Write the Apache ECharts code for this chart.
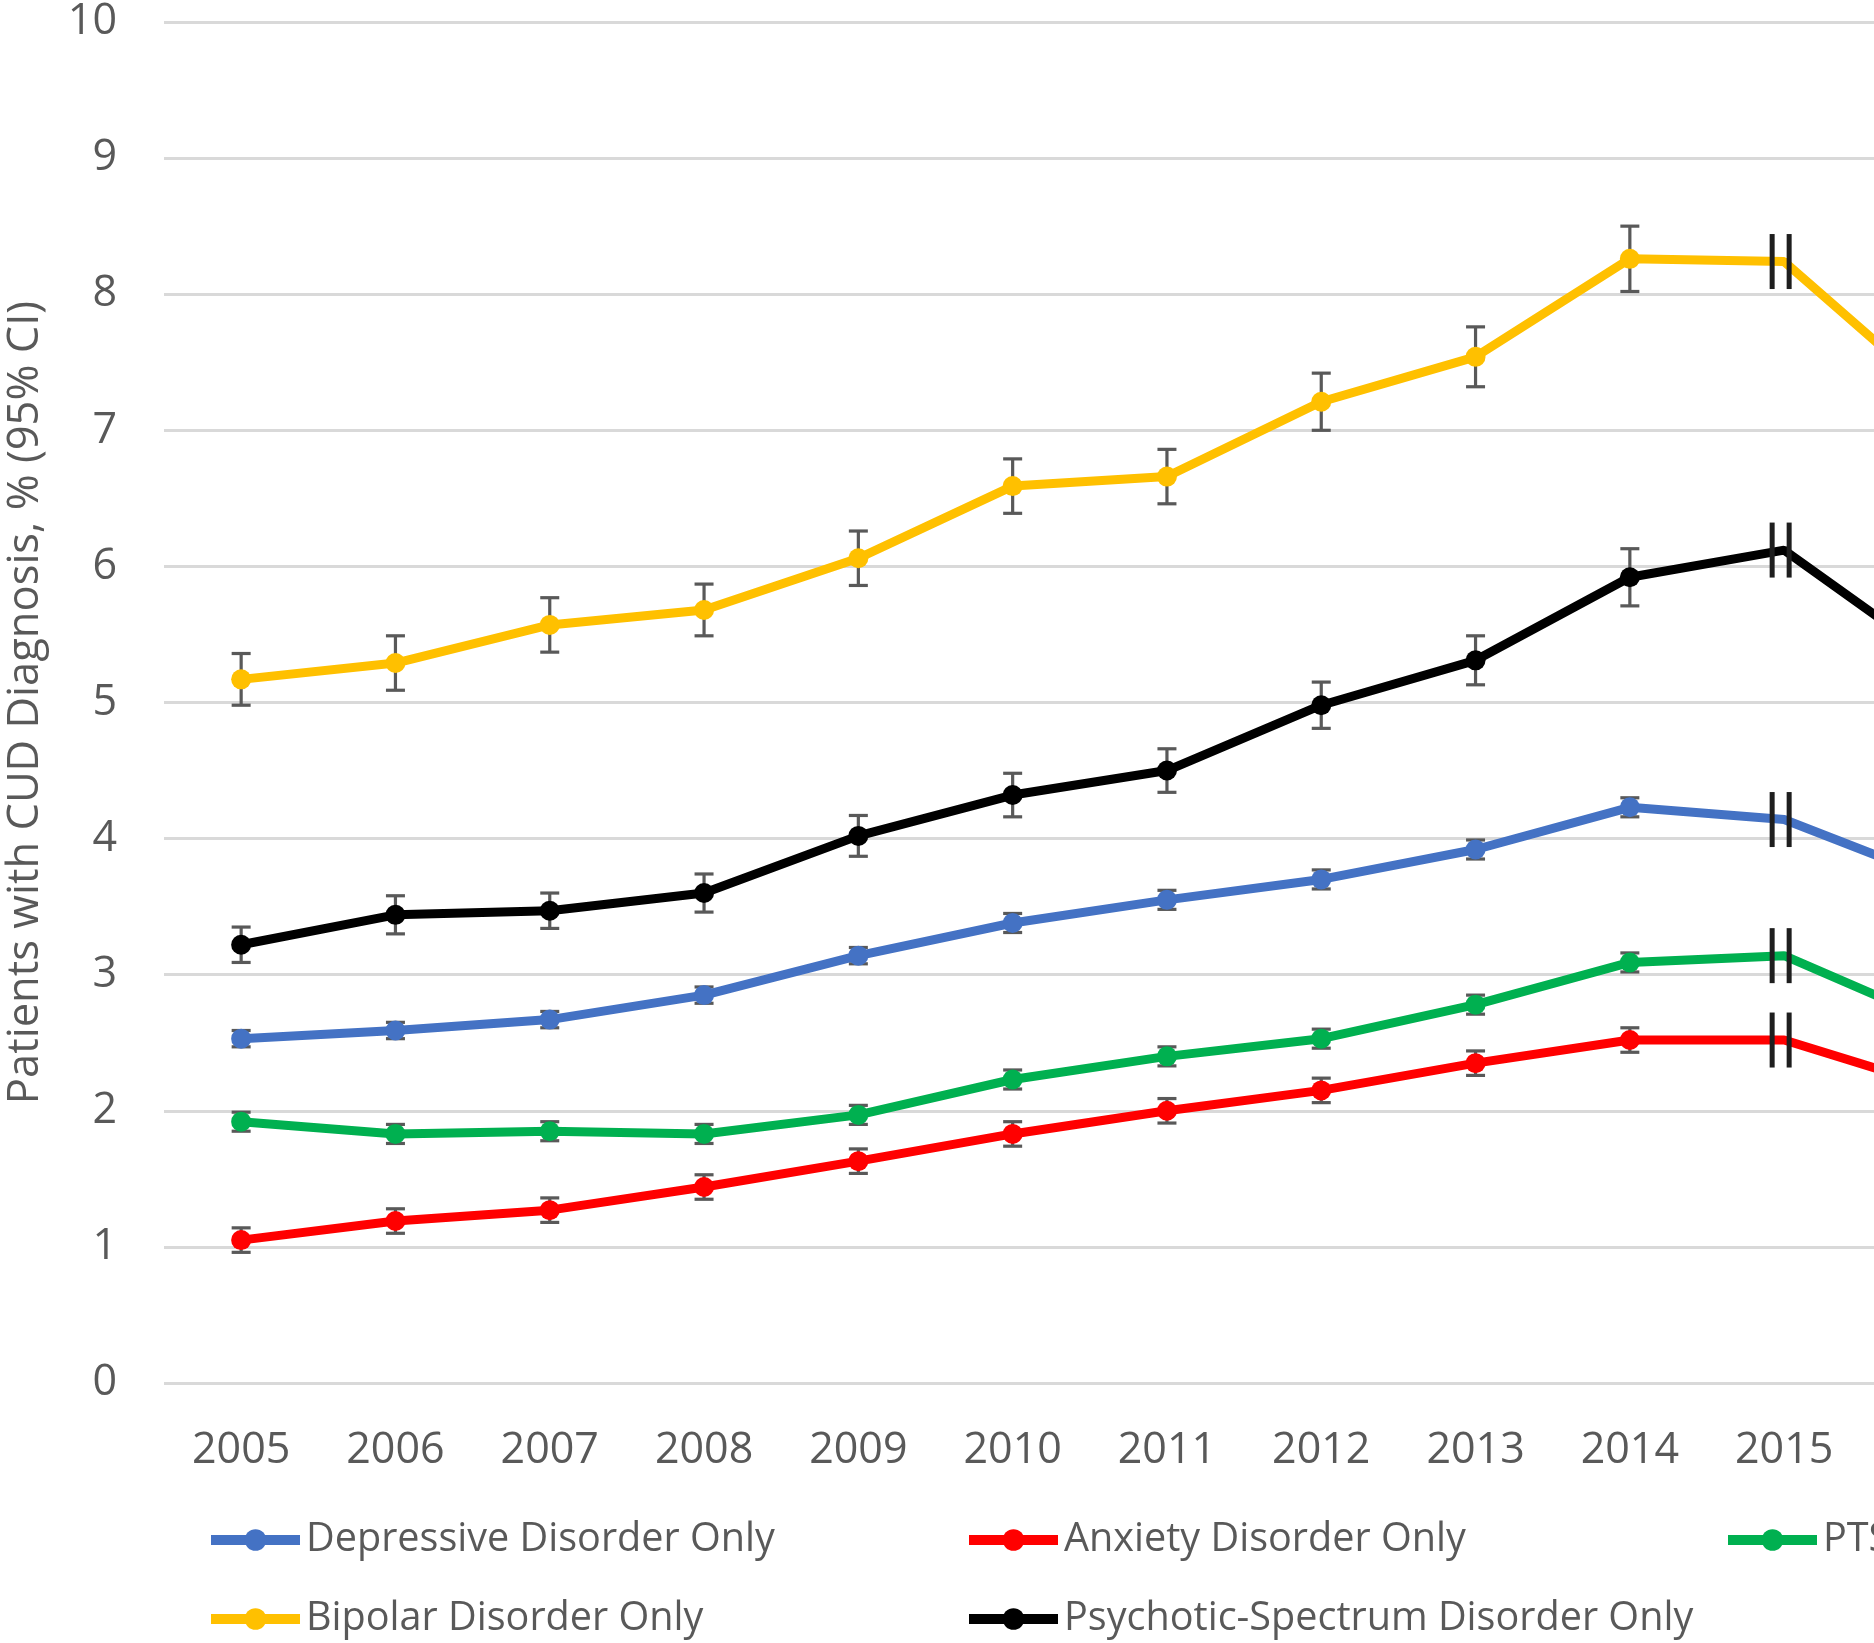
<!DOCTYPE html>
<html>
<head>
<meta charset="utf-8">
<script src="https://cdn.jsdelivr.net/npm/echarts@6/dist/echarts.min.js"></script>
<style>
html,body{margin:0;padding:0;background:#fff;overflow:hidden;width:1874px;height:1643px;}
#chart{width:2040px;height:1643px;}
</style>
</head>
<body>
<div id="chart"></div>
<script>
// ---- data ----
const years = ['2005','2006','2007','2008','2009','2010','2011','2012','2013','2014','2015','2016'];
const yTicks = [0,1,2,3,4,5,6,7,8,9,10];

const depressive = [2.53, 2.59, 2.67, 2.85, 3.14, 3.38, 3.55, 3.70, 3.92, 4.23, 4.14, 3.70];
const anxiety    = [1.05, 1.19, 1.27, 1.44, 1.63, 1.83, 2.00, 2.15, 2.35, 2.52, 2.52, 2.17];
const ptsd       = [1.92, 1.83, 1.85, 1.83, 1.97, 2.23, 2.40, 2.53, 2.78, 3.09, 3.14, 2.65];
const bipolar    = [5.17, 5.29, 5.57, 5.68, 6.06, 6.59, 6.66, 7.21, 7.54, 8.26, 8.24, 7.25];
const psychotic  = [3.22, 3.44, 3.47, 3.60, 4.02, 4.32, 4.50, 4.98, 5.31, 5.92, 6.12, 5.31];

// 95% CI half-widths (2005-2014)
const depressiveErr = [0.06, 0.06, 0.06, 0.06, 0.06, 0.07, 0.07, 0.07, 0.07, 0.07];
const anxietyErr    = [0.09, 0.09, 0.09, 0.09, 0.09, 0.09, 0.09, 0.09, 0.09, 0.09];
const ptsdErr       = [0.07, 0.07, 0.07, 0.07, 0.07, 0.07, 0.07, 0.07, 0.07, 0.07];
const bipolarErr    = [0.19, 0.20, 0.20, 0.19, 0.20, 0.20, 0.20, 0.21, 0.22, 0.24];
const psychoticErr  = [0.13, 0.14, 0.13, 0.14, 0.15, 0.16, 0.16, 0.17, 0.18, 0.21];

const names = ['Depressive Disorder Only','Anxiety Disorder Only','PTSD Only','Bipolar Disorder Only','Psychotic-Spectrum Disorder Only'];
const breakYear = '2015';
// ---------------

const FONT = 'Open Sans';
const TXT = '#595959';
const colors = ['#4472C4','#FF0000','#00B050','#FFC000','#000000'];
const values = [depressive, anxiety, ptsd, bipolar, psychotic];
const errs = [depressiveErr, anxietyErr, ptsdErr, bipolarErr, psychoticErr];
const breakIdx = years.indexOf(breakYear);

const chart = echarts.init(document.getElementById('chart'), null, {renderer:'canvas'});

const series = [];
// error bars (behind lines)
errs.forEach((e, k) => {
  series.push({
    type: 'custom',
    z: 1,
    silent: true,
    encode: {x: 0, y: [1, 2]},
    data: e.map((h, i) => [i, values[k][i] - h, values[k][i] + h]),
    renderItem: function(params, api) {
      const x = api.value(0);
      const p1 = api.coord([x, api.value(1)]);
      const p2 = api.coord([x, api.value(2)]);
      const w = 9.5;
      const st = {stroke: '#595959', lineWidth: 3.2};
      return {type: 'group', children: [
        {type: 'line', shape: {x1: p1[0], y1: p1[1], x2: p2[0], y2: p2[1]}, style: st},
        {type: 'line', shape: {x1: p1[0]-w, y1: p1[1], x2: p1[0]+w, y2: p1[1]}, style: st},
        {type: 'line', shape: {x1: p2[0]-w, y1: p2[1], x2: p2[0]+w, y2: p2[1]}, style: st}
      ]};
    }
  });
});
// lines
values.forEach((v, k) => {
  series.push({
    name: names[k],
    type: 'line',
    z: 2,
    data: v.map((val, i) => i === breakIdx ? {value: val, symbol: 'none'} : val),
    symbol: 'circle',
    symbolSize: 20,
    showAllSymbol: true,
    lineStyle: {color: colors[k], width: 9},
    itemStyle: {color: colors[k]},
    emphasis: {disabled: true}
  });
});
// break marks at ICD transition
series.push({
  type: 'custom',
  z: 3,
  silent: true,
  encode: {x: 0, y: 1},
  data: values.map(v => [breakIdx, v[breakIdx]]),
  renderItem: function(params, api) {
    const p = api.coord([api.value(0), api.value(1)]);
    const h = 27.5;
    const st = {stroke: '#1e1e1e', lineWidth: 5};
    return {type: 'group', children: [
      {type: 'line', shape: {x1: p[0]-12, y1: p[1]-h, x2: p[0]-12, y2: p[1]+h}, style: st},
      {type: 'line', shape: {x1: p[0]+5, y1: p[1]-h, x2: p[0]+5, y2: p[1]+h}, style: st}
    ]};
  }
});

const catW = 154.3;
const legendPos = [
  {left: 206, cy: 1538}, {left: 964, cy: 1538}, {left: 1723, cy: 1538},
  {left: 206, cy: 1617}, {left: 964, cy: 1617}
];
const legends = names.map((n, k) => ({
  data: [n],
  left: legendPos[k].left,
  top: legendPos[k].cy - 18,
  padding: 0,
  itemWidth: 89,
  itemHeight: 27,
  itemGap: 0,
  selectedMode: false,
  lineStyle: {width: 10},
  textStyle: {fontFamily: FONT, fontSize: 39.6, color: TXT, padding: [0,0,0,1]}
}));

chart.setOption({
  animation: false,
  backgroundColor: '#fff',
  grid: {left: 164, top: 22, bottom: 1643 - 1383, width: catW * years.length, containLabel: false, outerBoundsMode: 'none'},
  legend: legends,
  xAxis: {
    type: 'category',
    data: years,
    boundaryGap: true,
    axisLine: {show: false},
    axisTick: {show: false},
    axisLabel: {interval: 0, margin: 46, fontFamily: FONT, fontSize: 43, color: TXT},
    splitLine: {show: false}
  },
  yAxis: {
    type: 'value',
    min: yTicks[0],
    max: yTicks[yTicks.length - 1],
    interval: 1,
    axisLine: {show: false},
    axisTick: {show: false},
    axisLabel: {margin: 47, fontFamily: FONT, fontSize: 43, color: TXT},
    splitLine: {lineStyle: {color: '#d9d9d9', width: 3}},
    name: 'Patients with CUD Diagnosis, % (95% CI)',
    nameLocation: 'middle',
    nameGap: 116,
    nameTextStyle: {fontFamily: FONT, fontSize: 43.5, color: TXT}
  },
  series: series
});
</script>
</body>
</html>
